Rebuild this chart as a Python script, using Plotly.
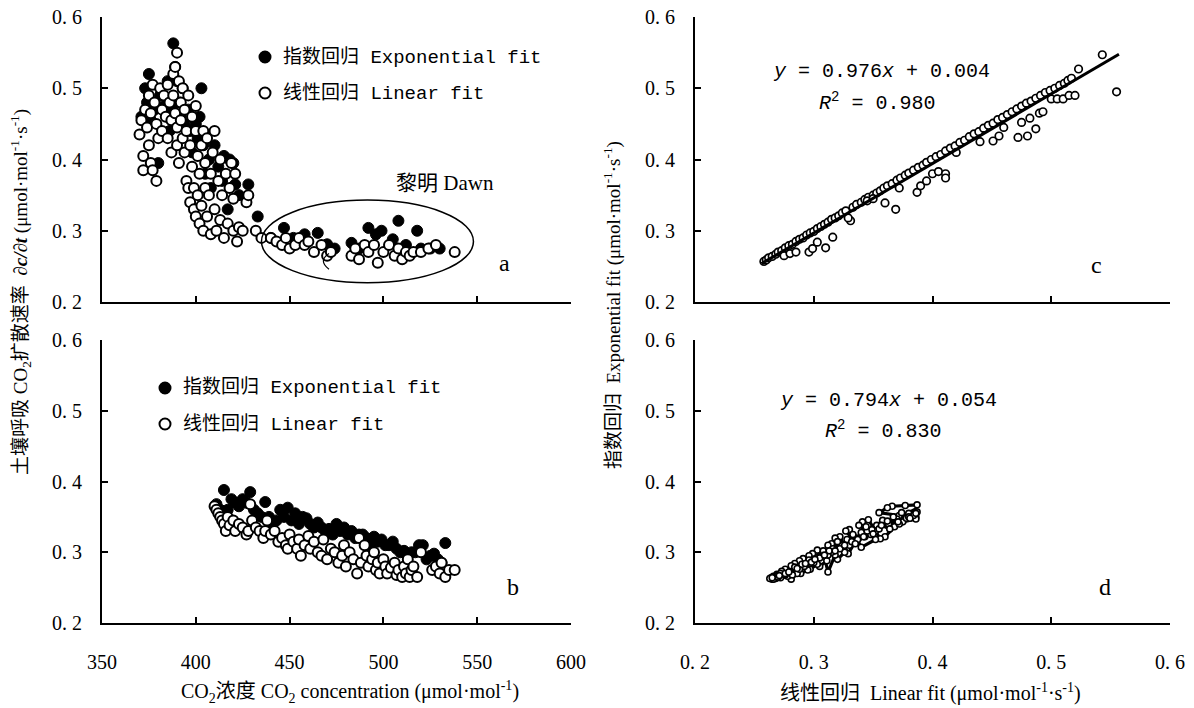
import plotly.graph_objects as go

# page body has an 8px margin: build figure 8px smaller and place everything in reference pixel coords minus 8
OFF = 8
W, H = 1194 - OFF, 708 - OFF

# ---------------- data ----------------
# Panel a: CO2 concentration vs diffusion rate
a_lin_co2 = [370,371,372,372,373,374,375,375,376,376,377,377,378,379,379,380,381,382,382,383,384,385,385,386,387,387,388,388,389,389,390,390,390,391,391,392,392,393,393,394,394,395,395,396,396,397,397,398,398,399,399,400,400,400,401,401,402,402,403,403,404,404,405,405,406,406,407,408,408,409,410,410,411,412,413,413,414,415,416,417,418,419,420,420,421,422,423,425,427,428,432,435,440,443,446,448,450,453,455,458,460,463,467,470,472,483,485,487,490,492,495,497,500,503,506,508,510,512,514,516,520,524,528,538]
a_lin_val = [0.435,0.455,0.405,0.385,0.47,0.445,0.49,0.42,0.395,0.465,0.505,0.385,0.48,0.45,0.37,0.43,0.5,0.47,0.44,0.49,0.46,0.505,0.43,0.48,0.455,0.41,0.52,0.49,0.465,0.53,0.55,0.445,0.42,0.51,0.395,0.48,0.455,0.5,0.43,0.47,0.41,0.37,0.44,0.36,0.49,0.42,0.34,0.46,0.39,0.33,0.36,0.475,0.44,0.32,0.405,0.35,0.31,0.38,0.42,0.335,0.44,0.30,0.36,0.395,0.32,0.43,0.35,0.295,0.38,0.41,0.33,0.44,0.30,0.37,0.40,0.315,0.35,0.29,0.38,0.31,0.36,0.395,0.30,0.345,0.38,0.285,0.305,0.30,0.34,0.35,0.30,0.29,0.29,0.285,0.28,0.29,0.275,0.28,0.29,0.28,0.285,0.27,0.28,0.265,0.27,0.265,0.275,0.26,0.28,0.27,0.28,0.255,0.27,0.28,0.265,0.275,0.26,0.27,0.265,0.27,0.27,0.275,0.28,0.27]
a_exp_co2 = [371,373,374,375,376,378,380,381,383,385,386,387,388,389,390,391,392,393,394,396,397,398,400,401,402,403,404,405,407,408,410,412,414,415,417,418,420,421,423,428,433,440,447,452,458,465,470,474,483,487,492,499,496,505,508,512,518,520,525,530]
a_exp_val = [0.46,0.50,0.48,0.52,0.455,0.47,0.395,0.49,0.475,0.51,0.44,0.47,0.563,0.53,0.51,0.48,0.46,0.50,0.45,0.47,0.44,0.41,0.45,0.43,0.46,0.50,0.42,0.38,0.40,0.36,0.42,0.39,0.37,0.405,0.33,0.40,0.395,0.365,0.35,0.365,0.32,0.29,0.304,0.29,0.295,0.297,0.281,0.275,0.283,0.275,0.304,0.30,0.295,0.288,0.314,0.28,0.30,0.275,0.275,0.275]

# Panel b
b_lin_co2 = [410,411,412,413,414,415,416,417,418,420,421,423,425,427,428,429,430,432,434,436,437,438,440,442,444,446,448,449,450,452,454,455,456,458,460,461,463,465,467,468,470,472,474,476,478,479,480,482,484,486,487,488,490,491,492,494,495,496,497,498,500,501,502,504,506,507,508,510,511,512,513,514,515,516,518,520,526,528,530,531,533,535,538]
b_lin_val = [0.365,0.36,0.355,0.35,0.345,0.34,0.33,0.35,0.338,0.345,0.33,0.34,0.335,0.325,0.33,0.368,0.345,0.335,0.33,0.32,0.33,0.345,0.325,0.33,0.315,0.32,0.31,0.305,0.325,0.315,0.305,0.318,0.295,0.31,0.323,0.305,0.315,0.30,0.295,0.318,0.29,0.305,0.30,0.285,0.295,0.31,0.28,0.30,0.29,0.27,0.32,0.285,0.31,0.295,0.28,0.29,0.30,0.275,0.285,0.27,0.29,0.28,0.27,0.278,0.285,0.268,0.275,0.265,0.28,0.27,0.29,0.265,0.275,0.28,0.265,0.30,0.275,0.28,0.27,0.285,0.265,0.275,0.275]
b_exp_co2 = [411,413,415,417,419,421,423,425,427,429,431,433,435,437,439,441,443,445,447,449,451,453,455,457,459,461,463,465,467,469,471,473,475,477,479,481,483,485,487,489,491,493,495,497,499,501,503,505,507,509,511,513,515,517,519,521,523,525,527,529,531,533]
b_exp_val = [0.368,0.36,0.388,0.36,0.375,0.37,0.365,0.375,0.37,0.385,0.36,0.355,0.35,0.371,0.35,0.34,0.345,0.36,0.35,0.363,0.345,0.355,0.34,0.35,0.348,0.34,0.335,0.342,0.335,0.33,0.333,0.325,0.34,0.33,0.335,0.325,0.33,0.32,0.325,0.325,0.32,0.31,0.322,0.315,0.318,0.31,0.31,0.315,0.305,0.30,0.302,0.295,0.30,0.30,0.31,0.31,0.29,0.295,0.298,0.29,0.285,0.313]

# Panel c: linear fit vs exponential fit (top)
c_lin = [0.258,0.260,0.262,0.265,0.268,0.270,0.273,0.276,0.279,0.282,0.285,0.288,0.291,0.294,0.297,0.300,0.303,0.306,0.309,0.312,0.315,0.318,0.321,0.324,0.327,0.333,0.336,0.340,0.343,0.346,0.350,0.353,0.356,0.359,0.362,0.366,0.370,0.373,0.377,0.380,0.384,0.388,0.392,0.395,0.399,0.403,0.407,0.411,0.415,0.419,0.423,0.427,0.431,0.435,0.439,0.443,0.447,0.451,0.455,0.459,0.463,0.467,0.471,0.475,0.479,0.483,0.487,0.491,0.495,0.499,0.503,0.507,0.511,0.514,0.517,
         0.275,0.280,0.285,0.296,0.299,0.303,0.310,0.316,0.331,0.329,0.345,0.350,0.360,0.369,0.372,0.387,0.390,0.395,0.400,0.405,0.411,0.411,0.420,0.440,0.451,0.456,0.460,0.472,0.480,0.482,0.487,0.475,0.490,0.493,0.500,0.505,0.510,0.515,0.520,0.523,0.543,0.555]
c_exp = [0.257,0.259,0.262,0.264,0.267,0.270,0.272,0.276,0.279,0.281,0.285,0.288,0.290,0.294,0.297,0.299,0.303,0.306,0.309,0.312,0.316,0.318,0.321,0.325,0.328,0.333,0.337,0.340,0.344,0.347,0.350,0.353,0.356,0.360,0.363,0.366,0.371,0.374,0.378,0.381,0.385,0.389,0.392,0.396,0.400,0.404,0.407,0.412,0.416,0.419,0.424,0.427,0.432,0.436,0.439,0.444,0.448,0.451,0.456,0.459,0.463,0.467,0.471,0.475,0.479,0.482,0.486,0.490,0.494,0.497,0.500,0.504,0.507,0.511,0.514,
         0.265,0.268,0.270,0.270,0.275,0.284,0.276,0.291,0.314,0.318,0.342,0.345,0.339,0.330,0.360,0.354,0.363,0.370,0.380,0.383,0.380,0.374,0.410,0.425,0.426,0.433,0.445,0.431,0.433,0.458,0.443,0.452,0.465,0.467,0.485,0.485,0.485,0.490,0.490,0.527,0.547,0.495]

# Panel d: linear fit vs exponential fit (bottom), time-ordered
d_lin = [0.387,0.377,0.366,0.362,0.355,0.372,0.386,0.386,0.375,0.368,0.360,0.356,0.352,0.346,0.341,0.338,0.348,0.352,0.340,0.336,0.330,0.327,0.335,0.329,0.322,0.318,0.326,0.320,0.315,0.312,0.318,0.312,0.308,0.303,0.311,0.305,0.299,0.296,0.303,0.297,0.291,0.288,0.295,0.289,0.284,0.281,0.286,0.281,0.276,0.273,0.278,0.272,0.269,0.266,0.268,0.265,0.264,0.263,
         0.270,0.285,0.300,0.315,0.330,0.345,0.358,0.370,0.380,0.387,
         0.384,0.378,0.374,0.367,0.363,0.358,0.353,0.349,0.344,0.340,0.337,0.333,0.328,0.324,0.320,0.316,0.312,0.308,0.304,0.300,0.296,0.292,0.288,0.284,0.280,0.276,0.272,0.268,0.266,
         0.270,0.276,0.282,0.290,0.298,0.305,0.313,0.322,0.332,0.343,0.355,0.362,0.372,0.380,0.386,
         0.381,0.371,0.364,0.357,0.350,0.342,0.335,0.326,0.318,0.309,0.301,0.293,0.286,0.279,0.271,0.265]
d_exp = [0.367,0.366,0.365,0.363,0.356,0.352,0.350,0.347,0.343,0.336,0.322,0.319,0.330,0.346,0.343,0.338,0.325,0.318,0.307,0.320,0.332,0.330,0.315,0.298,0.322,0.320,0.300,0.290,0.312,0.310,0.296,0.272,0.300,0.303,0.288,0.280,0.298,0.295,0.283,0.276,0.291,0.288,0.275,0.270,0.284,0.281,0.270,0.262,0.276,0.273,0.266,0.264,0.269,0.266,0.263,0.262,0.264,0.263,
         0.268,0.278,0.290,0.300,0.310,0.330,0.340,0.347,0.355,0.357,
         0.352,0.348,0.356,0.350,0.340,0.345,0.338,0.332,0.336,0.328,0.318,0.325,0.318,0.310,0.315,0.305,0.296,0.302,0.293,0.285,0.289,0.280,0.276,0.279,0.272,0.268,0.270,0.265,0.262,
         0.265,0.270,0.268,0.283,0.286,0.292,0.302,0.305,0.315,0.322,0.333,0.344,0.340,0.350,0.355,
         0.348,0.343,0.333,0.338,0.326,0.322,0.312,0.310,0.302,0.296,0.290,0.284,0.277,0.272,0.267,0.264]

# regression coefficients (slope, intercept) and fitted x ranges
c_fit = [0.976, 0.004]
c_fit_x = [0.256, 0.557]
d_fit = [0.794, 0.054]
d_fit_x = [0.264, 0.387]

x_ticks_left = [350, 400, 450, 500, 550, 600]
y_ticks = [0.2, 0.3, 0.4, 0.5, 0.6]
y_tick_text = ["0. 2", "0. 3", "0. 4", "0. 5", "0. 6"]

# ---------------- figure ----------------
SERIF = "Liberation Serif, Noto Sans CJK SC"
MONO = "Liberation Mono, Noto Sans CJK SC"

fig = go.Figure()

big_open = dict(size=10, color="white", line=dict(color="black", width=2))
big_fill = dict(size=11, color="black", line=dict(color="black", width=1))

# panel a
fig.add_trace(go.Scatter(x=a_exp_co2, y=a_exp_val, mode="markers", marker=big_fill, xaxis="x", yaxis="y", showlegend=False))
fig.add_trace(go.Scatter(x=a_lin_co2, y=a_lin_val, mode="markers", marker=big_open, xaxis="x", yaxis="y", showlegend=False))
# panel b
fig.add_trace(go.Scatter(x=b_exp_co2, y=b_exp_val, mode="markers", marker=big_fill, xaxis="x3", yaxis="y3", showlegend=False))
fig.add_trace(go.Scatter(x=b_lin_co2, y=b_lin_val, mode="markers", marker=big_open, xaxis="x3", yaxis="y3", showlegend=False))
# panel c
fig.add_trace(go.Scatter(x=c_lin, y=c_exp, mode="markers",
                         marker=dict(size=7.5, color="white", line=dict(color="black", width=1.7)),
                         xaxis="x2", yaxis="y2", showlegend=False))
fig.add_trace(go.Scatter(x=c_fit_x, y=[c_fit[0] * v + c_fit[1] for v in c_fit_x], mode="lines",
                         line=dict(color="black", width=3), xaxis="x2", yaxis="y2", showlegend=False))
# panel d
fig.add_trace(go.Scatter(x=d_fit_x, y=[d_fit[0] * v + d_fit[1] for v in d_fit_x], mode="lines",
                         line=dict(color="black", width=4), xaxis="x4", yaxis="y4", showlegend=False))
fig.add_trace(go.Scatter(x=d_lin, y=d_exp, mode="lines+markers",
                         line=dict(color="black", width=3.2),
                         marker=dict(size=6, color="white", line=dict(color="black", width=1.6)),
                         xaxis="x4", yaxis="y4", showlegend=False))

def fx(px):
    return (px - OFF) / W

def fy(py):
    return 1 - (py - OFF) / H

xl = [fx(102), fx(571)]
xr = [fx(695), fx(1170)]
yt = [fy(302), fy(17)]
yb = [fy(623), fy(340)]

def ax(domain, rng, anchor, **kw):
    d = dict(domain=domain, range=rng, anchor=anchor, showline=True, linecolor="black", linewidth=2,
             ticks="inside", ticklen=6, tickwidth=1.5, tickcolor="black", showgrid=False, zeroline=False,
             mirror=False, automargin=False, ticklabeloverflow="allow")
    d.update(kw)
    return d

ytick_kw = dict(tickvals=y_ticks, ticktext=y_tick_text, tickfont=dict(family=SERIF, size=20, color="black"),
                ticklabelstandoff=14)

fig.update_layout(
    template="none",
    width=W, height=H, margin=dict(l=0, r=0, t=0, b=0, pad=0, autoexpand=False),
    paper_bgcolor="white", plot_bgcolor="white",
    xaxis=ax(xl, [350, 600], "y", tickvals=x_ticks_left, showticklabels=False),
    yaxis=ax(yt, [0.2, 0.6], "x", **ytick_kw),
    xaxis2=ax(xr, [0.2, 0.6], "y2", tickvals=y_ticks, showticklabels=False),
    yaxis2=ax(yt, [0.2, 0.6], "x2", **ytick_kw),
    xaxis3=ax(xl, [350, 600], "y3", tickvals=x_ticks_left,
              tickfont=dict(family=SERIF, size=20, color="black"), ticklabelstandoff=20),
    yaxis3=ax(yb, [0.2, 0.6], "x3", **ytick_kw),
    xaxis4=ax(xr, [0.2, 0.6], "y4", tickvals=y_ticks, ticktext=y_tick_text,
              tickfont=dict(family=SERIF, size=20, color="black"), ticklabelstandoff=20),
    yaxis4=ax(yb, [0.2, 0.6], "x4", **ytick_kw),
)

annots = []
def text(px, py, t, family=SERIF, size=18, xanchor="center", angle=0):
    annots.append(dict(x=fx(px), y=fy(py), xref="paper", yref="paper", text=t, showarrow=False, xanchor=xanchor,
                       yanchor="middle", textangle=angle, font=dict(family=family, size=size, color="black")))

# legends (text)
text(281, 57, "指数回归 Exponential fit", MONO, 19, "left")
text(281, 93, "线性回归 Linear fit", MONO, 19, "left")
text(181, 388, "指数回归 Exponential fit", MONO, 19, "left")
text(181, 424, "线性回归 Linear fit", MONO, 19, "left")
text(445, 183, "黎明 Dawn", SERIF, 21)
text(504, 263, "a", SERIF, 24)
text(513, 587, "b", SERIF, 24)
text(1096, 265, "c", SERIF, 24)
text(1105, 587, "d", SERIF, 24)
text(771, 72, "<i>y</i> = 0.976<i>x</i> + 0.004", MONO, 20, "left")
text(817, 102, "<i>R</i><sup>2</sup> = 0.980", MONO, 20, "left")
text(778, 400, "<i>y</i> = 0.794<i>x</i> + 0.054", MONO, 20, "left")
text(823, 430, "<i>R</i><sup>2</sup> = 0.830", MONO, 20, "left")
text(350, 692, "CO<sub>2</sub>浓度 CO<sub>2</sub> concentration (μmol·mol<sup>-1</sup>)", SERIF, 20)
text(930, 692, "线性回归  Linear fit (μmol·mol<sup>-1</sup>·s<sup>-1</sup>)", SERIF, 20)
text(20, 292, "土壤呼吸 CO<sub>2</sub>扩散速率  <b><i>∂c/∂t</i></b> (μmol·mol<sup>-1</sup>·s<sup>-1</sup>)", SERIF, 19, angle=-90)
text(612, 305, "指数回归  Exponential fit (μmol·mol<sup>-1</sup>·s<sup>-1</sup>)", SERIF, 19, angle=-90)

fig.update_layout(annotations=annots)

# legend symbols and dawn ellipse
shapes = []
def dot(px, py, filled):
    shapes.append(dict(type="circle", xref="paper", yref="paper", xsizemode="pixel", ysizemode="pixel",
                       xanchor=fx(px), yanchor=fy(py), x0=-5.5, x1=5.5, y0=-5.5, y1=5.5,
                       line=dict(color="black", width=2), fillcolor="black" if filled else "white"))
dot(265, 57, True)
dot(265, 93, False)
dot(165, 388, True)
dot(165, 424, False)
shapes.append(dict(type="circle", xref="x", yref="y", x0=435, x1=548, y0=0.227, y1=0.343,
                   line=dict(color="black", width=1.5)))
shapes.append(dict(type="path", xref="x", yref="y", path="M 471,0.268 Q 465,0.258 471,0.246",
                   line=dict(color="black", width=1.2)))
fig.update_layout(shapes=shapes)

fig.write_html("out.html")
